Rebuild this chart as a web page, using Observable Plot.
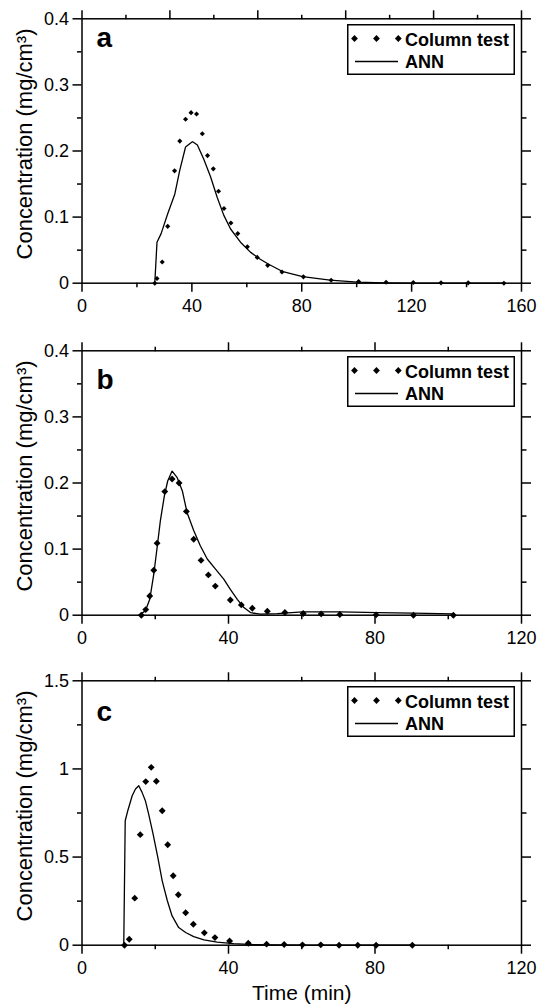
<!DOCTYPE html>
<html>
<head>
<meta charset="utf-8">
<script src="https://cdn.jsdelivr.net/npm/d3@7"></script>
<script src="https://cdn.jsdelivr.net/npm/@observablehq/plot@0.6"></script>
<style>
  html, body { margin: 0; padding: 0; background: #fff; }
  #wrap { position: relative; width: 539px; height: 1007px; overflow: hidden; font-family: "Liberation Sans", Arial, Helvetica, sans-serif; }
  .panel { position: absolute; left: 0; }
  .legend { position: absolute; }
</style>
</head>
<body>
<div id="wrap"></div>
<script>
// ---------------- DATA ----------------
// Panel a
const colTimeA = [26.5, 27.3, 29.2, 31.2, 33.7, 35.6, 37.7, 39.7, 41.7, 43.8, 45.7, 47.8, 49.7, 51.7, 54.2, 56.7, 60.2, 63.8, 67.6, 72.8, 80.6, 90.7, 100.7, 110.7, 120.6, 130.7, 140.6, 153.6];
const colConcA = [0, 0.007, 0.032, 0.086, 0.170, 0.215, 0.248, 0.258, 0.256, 0.226, 0.193, 0.173, 0.139, 0.113, 0.091, 0.075, 0.055, 0.039, 0.027, 0.017, 0.0096, 0.0045, 0.0025, 0.0015, 0.001, 0.0005, 0.0005, 0];
const annTimeA = [26.5, 27.3, 28.8, 31.2, 33.8, 35.6, 37.7, 39.8, 40.3, 42, 44.3, 46.8, 49.2, 51.6, 54.1, 57.7, 61.3, 64.6, 67.8, 72.8, 80.3, 90.3, 100.3, 110, 120, 154];
const annConcA = [0, 0.062, 0.075, 0.105, 0.135, 0.171, 0.206, 0.213, 0.214, 0.209, 0.188, 0.161, 0.130, 0.103, 0.082, 0.062, 0.047, 0.037, 0.029, 0.018, 0.010, 0.0045, 0.0015, 0.0005, 0, 0];

// Panel b
const colTimeB = [16.2, 17.4, 18.5, 19.6, 20.5, 22.6, 24.6, 26.5, 28.5, 30.5, 32.5, 34.5, 36.4, 40.5, 43.5, 46.5, 50.6, 55.4, 60.4, 65.3, 70.4, 80.3, 90.5, 101.4];
const colConcB = [0, 0.0085, 0.029, 0.068, 0.109, 0.187, 0.206, 0.200, 0.157, 0.115, 0.083, 0.061, 0.044, 0.023, 0.0156, 0.0106, 0.006, 0.004, 0.0025, 0.002, 0.001, 0.0005, 0, 0];
const annTimeB = [15.5, 17.3, 18.5, 19.6, 20.5, 21.4, 22.5, 23.4, 24.6, 26, 27.4, 28.7, 30.5, 32.3, 34.2, 36.4, 38.7, 40.5, 42.4, 44.2, 46, 48.7, 53.3, 60.2, 70.5, 80.8, 90.2, 101.4];
const annConcB = [0, 0.0065, 0.024, 0.062, 0.102, 0.143, 0.181, 0.203, 0.218, 0.208, 0.188, 0.155, 0.128, 0.105, 0.085, 0.070, 0.0545, 0.039, 0.024, 0.0115, 0.004, 0.0015, 0.0025, 0.005, 0.005, 0.004, 0.003, 0.002];

// Panel c
const colTimeC = [11.6, 12.9, 14.4, 15.9, 17.4, 18.9, 20.3, 21.9, 23.4, 24.9, 26.3, 28.3, 30.4, 33.4, 36.3, 40.3, 45.4, 50.4, 55.2, 60.2, 65.2, 70.2, 75.3, 80.3, 90.2];
const colConcC = [0, 0.034, 0.267, 0.627, 0.928, 1.009, 0.930, 0.763, 0.570, 0.394, 0.286, 0.184, 0.119, 0.070, 0.043, 0.024, 0.011, 0.006, 0.004, 0.002, 0.002, 0, 0, 0, 0];
const annTimeC = [11.4, 11.8, 12.5, 13.7, 14.6, 15.5, 16.4, 17.3, 18.2, 19.4, 20.7, 21.9, 23.3, 24.6, 26.4, 28.3, 30.5, 33.3, 36.9, 41.4, 46.9, 52.7, 62, 90];
const annConcC = [0, 0.706, 0.763, 0.848, 0.886, 0.905, 0.867, 0.820, 0.744, 0.631, 0.498, 0.365, 0.252, 0.166, 0.100, 0.072, 0.049, 0.030, 0.017, 0.009, 0.0034, 0.002, 0, 0];

// Ticks
const xTicksA = [0, 40, 80, 120, 160];
const xMinorA = [20, 60, 100, 140];
const topMajorA = [0, 32, 64, 96, 128, 160];
const topMinorA = [16, 48, 80, 112, 144];
const xTicksBC = [0, 40, 80, 120];
const xMinorBC = [20, 60, 100];
const yTicksAB = [0, 0.1, 0.2, 0.3, 0.4];
const yMinorAB = [0.05, 0.15, 0.25, 0.35];
const yTicksC = [0, 0.5, 1, 1.5];
const yMinorC = [0.25, 0.75, 1.25];

// Text
const yLabel = "Concentration (mg/cm³)";
const xLabel = "Time (min)";
const seriesCol = "Column test";
const seriesAnn = "ANN";

// ---------------- LAYOUT ----------------
const W = 539, ML = 81.5, MR = 18, MT = 18.3, PH = 264.4;
const FONT = "'Liberation Sans', Arial, Helvetica, sans-serif";

function makePanel(cfg) {
  const pts = cfg.colT.map((t, i) => ({t, c: cfg.colC[i]}));
  const ann = cfg.annT.map((t, i) => ({t, c: cfg.annC[i]}));
  const marks = [
    Plot.axisX(cfg.xTicks, {anchor: "bottom", tickSize: 9, tickPadding: 7, strokeWidth: 1.5, tickFormat: d => String(d), fontSize: 18, label: null}),
    Plot.axisX(cfg.xMinor, {anchor: "bottom", tickSize: 4.5, strokeWidth: 1.5, fill: "none", label: null}),
    Plot.axisX(cfg.topMajor, {anchor: "top", tickSize: 9, strokeWidth: 1.5, fill: "none", label: null}),
    Plot.axisX(cfg.topMinor, {anchor: "top", tickSize: 4.5, strokeWidth: 1.5, fill: "none", label: null}),
    Plot.axisY(cfg.yTicks, {anchor: "left", tickSize: 9, tickPadding: 4, strokeWidth: 1.5, tickFormat: d => String(d), fontSize: 18, label: null}),
    Plot.axisY(cfg.yMinor, {anchor: "left", tickSize: 4.5, strokeWidth: 1.5, fill: "none", label: null}),
    Plot.axisY(cfg.yTicks, {anchor: "right", tickSize: 9, strokeWidth: 1.5, fill: "none", label: null}),
    Plot.axisY(cfg.yMinor, {anchor: "right", tickSize: 4.5, strokeWidth: 1.5, fill: "none", label: null}),
    Plot.frame({strokeWidth: 1.5}),
    Plot.line(ann, {x: "t", y: "c", stroke: "black", strokeWidth: 1.3}),
    Plot.dot(pts, {x: "t", y: "c", symbol: "diamond2", r: cfg.r, fill: "black", stroke: "none"}),
    Plot.text([cfg.letter], {frameAnchor: "top-left", dx: 14.5, dy: cfg.letterDy, lineAnchor: "bottom", textAnchor: "start", fontSize: 28, fontWeight: "bold"}),
    Plot.text([yLabel], {frameAnchor: "left", rotate: -90, dx: -50.5, dy: -7, lineAnchor: "bottom", textAnchor: "middle", fontSize: 22})
  ];
  if (cfg.xLabel) {
    marks.push(Plot.text([cfg.xLabel], {frameAnchor: "bottom", dy: 55, lineAnchor: "bottom", textAnchor: "middle", fontSize: 21}));
  }
  return Plot.plot({
    width: W,
    height: cfg.height,
    marginLeft: ML,
    marginRight: MR,
    marginTop: MT,
    marginBottom: cfg.height - MT - PH,
    style: {fontFamily: FONT, fontSize: "18px", color: "black", background: "white", overflow: "visible"},
    x: {domain: [0, cfg.xMax], label: null},
    y: {domain: [0, cfg.yMax], label: null},
    marks
  });
}

function makeLegend() {
  const w = 168, h = 51;
  const svg = d3.create("svg").attr("width", w).attr("height", h).attr("class", "legend")
    .style("font-family", FONT);
  svg.append("rect").attr("x", 0.75).attr("y", 0.75).attr("width", w - 1.5).attr("height", h - 1.5)
    .attr("fill", "white").attr("stroke", "black").attr("stroke-width", 1.5);
  const dia = d3.symbol(d3.symbolDiamond2, 3.4 * 3.4 / (0.62625 * 0.62625));
  [7.5, 29.5, 51.3].forEach(cx => {
    svg.append("path").attr("d", dia()).attr("transform", `translate(${cx},14.5)`).attr("fill", "black");
  });
  svg.append("text").attr("x", 58).attr("y", 21.5).attr("font-size", 18).attr("font-weight", "bold").text(seriesCol);
  svg.append("line").attr("x1", 8).attr("x2", 51).attr("y1", 37.5).attr("y2", 37.5).attr("stroke", "black").attr("stroke-width", 1.3);
  svg.append("text").attr("x", 58).attr("y", 43.5).attr("font-size", 18).attr("font-weight", "bold").text(seriesAnn);
  return svg.node();
}

const panels = [
  {top: 0, height: 331.7, colT: colTimeA, colC: colConcA, annT: annTimeA, annC: annConcA, xMax: 160, yMax: 0.4,
   xTicks: xTicksA, xMinor: xMinorA, topMajor: topMajorA, topMinor: topMinorA, yTicks: yTicksAB, yMinor: yMinorAB,
   letter: "a", letterDy: 28.7, r: 2.3},
  {top: 331.7, height: 330, colT: colTimeB, colC: colConcB, annT: annTimeB, annC: annConcB, xMax: 120, yMax: 0.4,
   xTicks: xTicksBC, xMinor: xMinorBC, topMajor: xTicksBC, topMinor: xMinorBC, yTicks: yTicksAB, yMinor: yMinorAB,
   letter: "b", letterDy: 38.3, r: 3.1},
  {top: 661.7, height: 345.3, colT: colTimeC, colC: colConcC, annT: annTimeC, annC: annConcC, xMax: 120, yMax: 1.5,
   xTicks: xTicksBC, xMinor: xMinorBC, topMajor: xTicksBC, topMinor: xMinorBC, yTicks: yTicksC, yMinor: yMinorC,
   letter: "c", letterDy: 40, r: 3.1, xLabel: xLabel}
];

const wrap = document.getElementById("wrap");
panels.forEach(p => {
  const div = document.createElement("div");
  div.className = "panel";
  div.style.top = p.top + "px";
  div.appendChild(makePanel(p));
  wrap.appendChild(div);
  const lg = makeLegend();
  lg.style.left = "347px";
  lg.style.top = (p.top + MT + 5.5) + "px";
  wrap.appendChild(lg);
});
</script>
</body>
</html>
